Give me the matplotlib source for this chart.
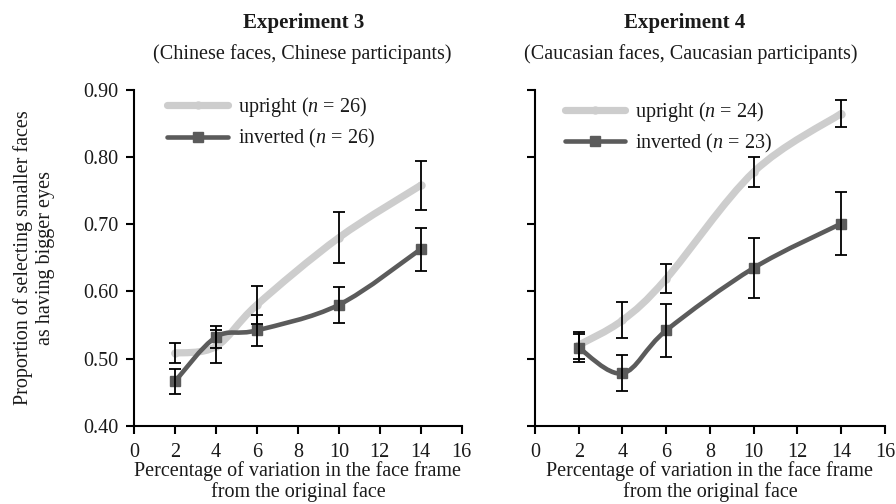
import numpy as np
import matplotlib
matplotlib.use("Agg")
from matplotlib import pyplot as plt
from matplotlib.path import Path
from matplotlib.patches import PathPatch
from matplotlib.lines import Line2D

# x positions (percentage of variation)
variation = [2, 4, 6, 10, 14]

# Experiment 3 (Chinese faces, Chinese participants)
exp3_upright = [0.508, 0.518, 0.580, 0.680, 0.758]
exp3_upright_err = [0.015, 0.025, 0.028, 0.038, 0.036]
exp3_inverted = [0.466, 0.532, 0.542, 0.580, 0.663]
exp3_inverted_err = [0.019, 0.016, 0.023, 0.027, 0.032]

# Experiment 4 (Caucasian faces, Caucasian participants)
exp4_upright = [0.520, 0.557, 0.619, 0.778, 0.865]
exp4_upright_err = [0.020, 0.027, 0.022, 0.022, 0.020]
exp4_inverted = [0.516, 0.478, 0.542, 0.635, 0.701]
exp4_inverted_err = [0.021, 0.027, 0.039, 0.045, 0.047]

x_ticks = [0, 2, 4, 6, 8, 10, 12, 14, 16]
y_ticks = [0.40, 0.50, 0.60, 0.70, 0.80, 0.90]

UPRIGHT = '#cdcdcd'
INVERTED = '#5b5b5b'
TEXT = '#1a1a1a'

plt.rcParams['font.family'] = 'serif'
plt.rcParams['font.serif'] = ['Liberation Serif', 'DejaVu Serif']
plt.rcParams['mathtext.fontset'] = 'custom'
plt.rcParams['mathtext.rm'] = 'Liberation Serif'
plt.rcParams['mathtext.it'] = 'Liberation Serif:italic'


def smooth_path(x, y):
    # excel-style smoothed line: bezier segments through the points
    pts = np.column_stack([x, y]).astype(float)
    n = len(pts)
    verts = [pts[0]]
    codes = [Path.MOVETO]
    for i in range(n - 1):
        p0 = pts[max(i - 1, 0)]
        p1 = pts[i]
        p2 = pts[i + 1]
        p3 = pts[min(i + 2, n - 1)]
        verts += [p1 + (p2 - p0) / 6, p2 - (p3 - p1) / 6, p2]
        codes += [Path.CURVE4] * 3
    return Path(verts, codes)


def draw_panel(ax, up, up_err, inv, inv_err, n_up, n_inv, legend_anchor, show_yticklabels):
    ax.add_patch(PathPatch(smooth_path(variation, up), fill=False, edgecolor=UPRIGHT,
                           lw=5.2, capstyle='round', zorder=2))
    ax.plot(variation, up, 'o', color=UPRIGHT, ms=5, zorder=2)
    ax.add_patch(PathPatch(smooth_path(variation, inv), fill=False, edgecolor=INVERTED,
                           lw=3.3, capstyle='round', zorder=3))
    ax.plot(variation, inv, 's', color=INVERTED, ms=7, zorder=3)

    ax.errorbar(variation, up, yerr=up_err, fmt='none', ecolor='black', elinewidth=1.3,
                capsize=4.5, capthick=1.3, zorder=4)
    ax.errorbar(variation, inv, yerr=inv_err, fmt='none', ecolor='black', elinewidth=1.3,
                capsize=4.5, capthick=1.3, zorder=4)

    handles = [
        Line2D([], [], color=UPRIGHT, lw=5.2, marker='o', ms=5, solid_capstyle='round'),
        Line2D([], [], color=INVERTED, lw=3.3, marker='s', ms=7, solid_capstyle='round'),
    ]
    labels = [f'upright ($n$ = {n_up})', f'inverted ($n$ = {n_inv})']
    ax.legend(handles, labels, loc='upper left', bbox_to_anchor=legend_anchor, frameon=False,
              fontsize=14.5, handlelength=3.0, handletextpad=0.5, labelspacing=0.4,
              borderaxespad=0, labelcolor=TEXT)

    ax.set_xlim(0, 16)
    ax.set_ylim(0.40, 0.90)
    ax.set_xticks(x_ticks)
    ax.set_yticks(y_ticks)
    if show_yticklabels:
        ax.set_yticklabels([f'{v:.2f}' for v in y_ticks])
    else:
        ax.set_yticklabels([])
    for side in ['top', 'right']:
        ax.spines[side].set_visible(False)
    for side in ['left', 'bottom']:
        ax.spines[side].set_linewidth(1.5)
    ax.tick_params(length=5.5, width=1.5, labelsize=14.5, colors='black', labelcolor=TEXT)
    ax.tick_params(axis='y', pad=6)
    ax.tick_params(axis='x', pad=7)
    ax.set_xlabel('Percentage of variation in the face frame\nfrom the original face',
                  fontsize=14.5, color=TEXT, linespacing=1.1, labelpad=-1)


fig = plt.figure(figsize=(8.96, 5.04), dpi=100)
ax1 = fig.add_axes([0.1496, 0.1554, 0.3657, 0.666])
ax2 = fig.add_axes([0.5971, 0.1554, 0.3906, 0.666])

draw_panel(ax1, exp3_upright, exp3_upright_err, exp3_inverted, exp3_inverted_err,
           26, 26, (0.077, 1.009), True)
draw_panel(ax2, exp4_upright, exp4_upright_err, exp4_inverted, exp4_inverted_err,
           24, 23, (0.062, 0.995), False)

fig.text(304 / 896, 1 - 23 / 504, 'Experiment 3', ha='center', va='center',
         fontsize=15, fontweight='bold', color=TEXT)
fig.text(302 / 896, 1 - 54 / 504, '(Chinese faces, Chinese participants)', ha='center',
         va='center', fontsize=14.5, color=TEXT)
fig.text(685 / 896, 1 - 23 / 504, 'Experiment 4', ha='center', va='center',
         fontsize=15, fontweight='bold', color=TEXT)
fig.text(691 / 896, 1 - 54 / 504, '(Caucasian faces, Caucasian participants)', ha='center',
         va='center', fontsize=14.5, color=TEXT)

fig.text(34 / 896, 1 - 258 / 504, 'Proportion of selecting smaller faces\nas having bigger eyes',
         ha='center', va='center', rotation=90, fontsize=14.5, color=TEXT, linespacing=1.2)

fig.savefig('out.png', dpi=100)
